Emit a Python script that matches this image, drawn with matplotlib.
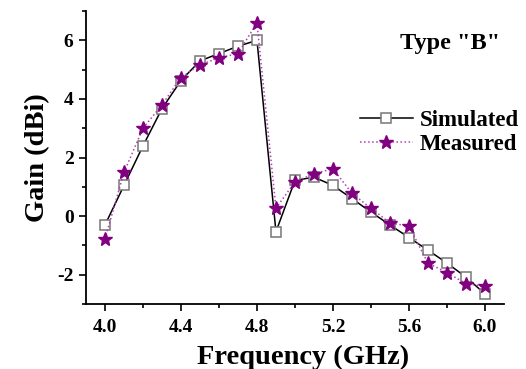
import matplotlib
matplotlib.use("Agg")
import matplotlib.pyplot as plt
from matplotlib.ticker import MultipleLocator

plt.rcParams['font.family'] = ['Liberation Serif', 'DejaVu Serif']
plt.rcParams['font.weight'] = 'bold'
plt.rcParams['axes.unicode_minus'] = False

freq = [4.0, 4.1, 4.2, 4.3, 4.4, 4.5, 4.6, 4.7, 4.8, 4.9, 5.0,
        5.1, 5.2, 5.3, 5.4, 5.5, 5.6, 5.7, 5.8, 5.9, 6.0]
simulated = [-0.30, 1.05, 2.40, 3.67, 4.63, 5.30, 5.55, 5.80, 6.00, -0.53, 1.22,
             1.33, 1.05, 0.60, 0.14, -0.30, -0.73, -1.16, -1.60, -2.08, -2.65]
measured = [-0.78, 1.50, 3.00, 3.80, 4.73, 5.17, 5.40, 5.55, 6.60, 0.27, 1.17,
            1.45, 1.62, 0.78, 0.27, -0.23, -0.34, -1.60, -1.93, -2.30, -2.40]
xticks = [4.0, 4.4, 4.8, 5.2, 5.6, 6.0]
yticks = [-2, 0, 2, 4, 6]

fig = plt.figure(figsize=(5.26, 3.69), dpi=100)
ax = fig.add_axes([0.1635, 0.176, 0.7945, 0.794])

ax.plot(freq, simulated, color='black', lw=1.1, marker='s', ms=7,
        mfc='white', mec='#777777', mew=1.1, label='Simulated', zorder=3)
ax.plot(freq, measured, color='#b040b0', lw=1.1, ls=':', marker='*', ms=10,
        mfc='#800080', mec='#800080', label='Measured', zorder=4)

ax.set_xlim(3.9, 6.1)
ax.set_ylim(-3, 7)
ax.set_xticks(xticks)
ax.set_xticklabels([f"{t:.1f}" for t in xticks])
ax.set_yticks(yticks)
ax.set_yticklabels([str(t) for t in yticks])
ax.xaxis.set_minor_locator(MultipleLocator(0.2))
ax.yaxis.set_minor_locator(MultipleLocator(1))
ax.tick_params(which='both', direction='out', width=1.2, labelsize=14)
ax.tick_params(which='major', length=5)
ax.tick_params(axis='x', which='major', pad=6)
ax.tick_params(axis='y', which='major', pad=4)
ax.tick_params(which='minor', length=3)
for lab in ax.get_xticklabels() + ax.get_yticklabels():
    lab.set_fontweight('bold')
for s in ['top', 'right']:
    ax.spines[s].set_visible(False)
for s in ['left', 'bottom']:
    ax.spines[s].set_linewidth(1.3)

ax.set_xlabel('Frequency (GHz)', fontsize=20.5, fontweight='bold', labelpad=6)
ax.xaxis.label.set_x(0.52)
ax.set_ylabel('Gain (dBi)', fontsize=20.5, fontweight='bold', labelpad=5)

ax.text(0.99, 0.89, 'Type "B"', transform=ax.transAxes, ha='right', va='center',
        fontsize=17.5, fontweight='bold')

leg = ax.legend(loc='center right', bbox_to_anchor=(1.085, 0.585), frameon=False,
                handlelength=2.3, handletextpad=0.3, labelspacing=0.15,
                prop={'weight': 'bold', 'size': 16.5})

fig.savefig('out.png', dpi=100)
